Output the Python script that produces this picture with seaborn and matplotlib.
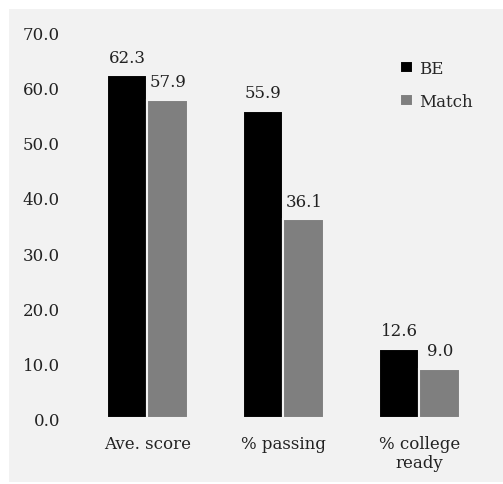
import matplotlib
matplotlib.use("Agg")
import matplotlib.pyplot as plt
import seaborn as sns
import pandas as pd
from matplotlib.patches import Rectangle

categories = ["Ave. score", "% passing", "% college\nready"]
groups = ["BE", "Match"]
be_values = [62.3, 55.9, 12.6]
match_values = [57.9, 36.1, 9.0]
y_ticks = [0, 10, 20, 30, 40, 50, 60, 70]

df = pd.DataFrame({
    "category": categories * 2,
    "group": ["BE"] * 3 + ["Match"] * 3,
    "value": be_values + match_values,
})

sns.set_style("white")
plt.rcParams['font.family'] = ['DejaVu Serif']
bg = "#f2f2f2"
txt = "#222222"

fig = plt.figure(figsize=(5.03, 4.85), dpi=100)
fig.patch.set_facecolor("white")
fig.patches.append(Rectangle((9 / 503, 0.004), 1, 1 - 10 / 485 - 0.004,
                             transform=fig.transFigure, facecolor=bg,
                             edgecolor="none", zorder=-10))

ax = fig.add_axes([0.158, 0.136, 0.811, 0.794])
ax.patch.set_alpha(0)

sns.barplot(data=df, x="category", y="value", hue="group", hue_order=groups,
            palette={"BE": "#000000", "Match": "#7f7f7f"}, width=0.6,
            edgecolor=bg, linewidth=1.5, ax=ax)

for cont in ax.containers:
    ax.bar_label(cont, fmt="%.1f", padding=7, fontsize=12, color=txt)

ax.set_ylim(0, 70)
ax.set_xlim(-0.5, 2.5)
ax.set_yticks(y_ticks)
ax.set_yticklabels([f"{v:.1f}" for v in y_ticks])
ax.tick_params(axis="y", length=0, pad=14, labelsize=12, labelcolor=txt)
ax.tick_params(axis="x", length=0, pad=12, labelsize=12, labelcolor=txt)
ax.set_xlabel("")
ax.set_ylabel("")
sns.despine(ax=ax, left=True, bottom=True)

leg = ax.legend(loc="upper right", bbox_to_anchor=(1.0, 0.97), frameon=False,
                fontsize=12, handlelength=0.75, handleheight=0.75,
                handletextpad=0.35, labelspacing=1.0)

fig.savefig("out.png", dpi=100, facecolor=fig.get_facecolor())
